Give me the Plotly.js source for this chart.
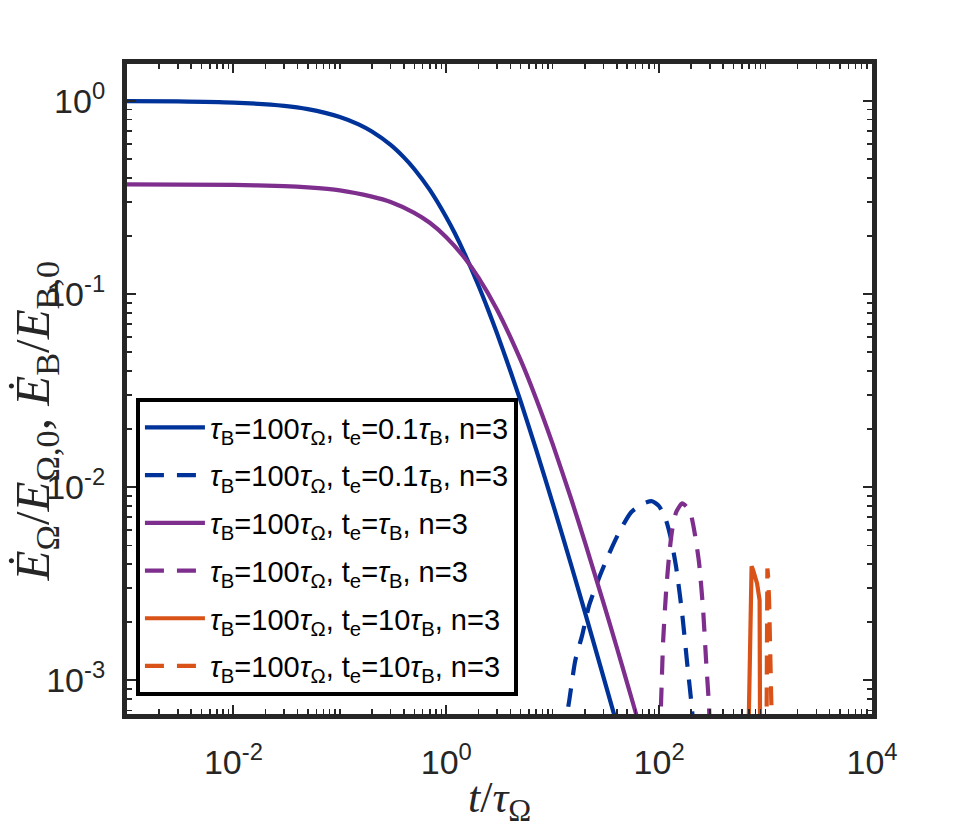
<!DOCTYPE html>
<html>
<head>
<meta charset="utf-8">
<script src="https://cdn.plot.ly/plotly-3.0.1.min.js"></script>
<style>html,body{margin:0;padding:0;background:#fff;}#chart{width:962px;height:832px;}</style>
</head>
<body>
<div id="chart"></div>
<script>
// ---- data ----
var seriesNames = [
  "<i>τ</i><sub>B</sub>=100<i>τ</i><sub>Ω</sub>, t<sub>e</sub>=0.1<i>τ</i><sub>B</sub>, n=3",
  "<i>τ</i><sub>B</sub>=100<i>τ</i><sub>Ω</sub>, t<sub>e</sub>=0.1<i>τ</i><sub>B</sub>, n=3",
  "<i>τ</i><sub>B</sub>=100<i>τ</i><sub>Ω</sub>, t<sub>e</sub>=<i>τ</i><sub>B</sub>, n=3",
  "<i>τ</i><sub>B</sub>=100<i>τ</i><sub>Ω</sub>, t<sub>e</sub>=<i>τ</i><sub>B</sub>, n=3",
  "<i>τ</i><sub>B</sub>=100<i>τ</i><sub>Ω</sub>, t<sub>e</sub>=10<i>τ</i><sub>B</sub>, n=3",
  "<i>τ</i><sub>B</sub>=100<i>τ</i><sub>Ω</sub>, t<sub>e</sub>=10<i>τ</i><sub>B</sub>, n=3"
];

// blue solid (t_e = 0.1 tau_B)
var tBlueSolid = [0.001, 0.003, 0.01, 0.03, 0.05, 0.1, 0.15, 0.2, 0.3, 0.4, 0.5, 0.7, 1, 1.2, 1.5, 2, 2.5, 3, 4, 5, 7, 10, 15, 20, 30, 40];
var yBlueSolid = [0.998, 0.994, 0.980, 0.943, 0.907, 0.826, 0.756, 0.694, 0.592, 0.510, 0.444, 0.346, 0.250, 0.207, 0.160, 0.111, 0.0816, 0.0625, 0.040, 0.0278, 0.0156, 0.00826, 0.00391, 0.00227, 0.00104, 0.000595];

// blue dashed
var tBlueDash = [12.5, 14.3, 16.3, 18.9, 22.0, 27.4, 34.0, 42.1, 54.6, 72.3, 85.9, 100, 116, 130, 144.5, 164.5, 183, 204, 212];
var yBlueDash = [0.0005, 0.000787, 0.00127, 0.00171, 0.00245, 0.00342, 0.00455, 0.00585, 0.00742, 0.00826, 0.00846, 0.00797, 0.00675, 0.00531, 0.00385, 0.00222, 0.00124, 0.00070, 0.0005];

// purple solid (t_e = tau_B)
var tPurpleSolid = [0.001, 0.01, 0.03, 0.05, 0.1, 0.2, 0.3, 0.5, 0.7, 1, 1.5, 2, 3, 5, 7, 10, 15, 20, 30, 40, 50, 60, 70];
var yPurpleSolid = [0.3697, 0.3673, 0.3622, 0.3568, 0.3444, 0.3194, 0.2997, 0.2634, 0.2339, 0.197, 0.1529, 0.1221, 0.0830, 0.0455, 0.02866, 0.01672, 0.00861, 0.00523, 0.00252, 0.00148, 0.000971, 0.000686, 0.00051];

// purple dashed
var tPurpleDash = [101, 104.4, 109.1, 116.4, 124.2, 132.5, 144.5, 164.5, 183, 199.5, 217.6, 237.5, 259, 276, 294.5, 300];
var yPurpleDash = [0.0005, 0.000787, 0.00161, 0.00292, 0.00445, 0.00599, 0.00742, 0.00826, 0.00787, 0.00716, 0.00564, 0.00404, 0.00231, 0.00127, 0.000724, 0.0005];

// orange solid (t_e = 10 tau_B)
var tOrangeSolid = [690, 708, 723, 731, 739, 764, 832, 879, 883, 888];
var yOrangeSolid = [0.0005, 0.0010, 0.00205, 0.0035, 0.0039, 0.00372, 0.00318, 0.0026, 0.0010, 0.0005];

// orange dashed
var tOrangeDash = [1020, 1033, 1040, 1055, 1079, 1102, 1133, 1152];
var yOrangeDash = [0.0005, 0.0026, 0.0038, 0.0035, 0.0026, 0.00152, 0.00089, 0.0005];

// tick labels
var xTickVals = [0.01, 1, 100, 10000];
var xTickText = ["10<sup>-2</sup>", "10<sup>0</sup>", "10<sup>2</sup>", "10<sup>4</sup>"];
var yTickVals = [0.001, 0.01, 0.1, 1];
var yTickText = ["10<sup>-3</sup>", "10<sup>-2</sup>", "10<sup>-1</sup>", "10<sup>0</sup>"];
var minorMantissas = [1, 2, 3, 4, 5, 6, 7, 8, 9];
var xDecades = [-3, -2, -1, 0, 1, 2, 3];
var yDecades = [-4, -3, -2, -1, 0];

function minorList(decades) {
  var out = [];
  decades.forEach(function (d) {
    minorMantissas.forEach(function (m) { out.push(m * Math.pow(10, d)); });
  });
  return out;
}

// ---- styling ----
var cBlue = "#003399", cPurple = "#7E2F8E", cOrange = "#D95319";
var W = 4.2;
var DASH = "19px,13px";

function tr(x, y, color, dash, name, idx, shape) {
  return {
    x: x, y: y, type: "scatter", mode: "lines", name: name,
    legendgroup: "g" + idx,
    line: {color: color, width: W, dash: dash, shape: shape || "spline", smoothing: 0.6},
    cliponaxis: true
  };
}

var data = [
  tr(tBlueSolid, yBlueSolid, cBlue, "solid", seriesNames[0], 0),
  tr(tBlueDash, yBlueDash, cBlue, DASH, seriesNames[1], 1),
  tr(tPurpleSolid, yPurpleSolid, cPurple, "solid", seriesNames[2], 2),
  tr(tPurpleDash, yPurpleDash, cPurple, DASH, seriesNames[3], 3),
  tr(tOrangeSolid, yOrangeSolid, cOrange, "solid", seriesNames[4], 4, "linear"),
  tr(tOrangeDash, yOrangeDash, cOrange, DASH, seriesNames[5], 5, "linear")
];

var axCol = "#262626";
var sans = "Liberation Sans, Arial, Helvetica, sans-serif";
var serif = "Liberation Serif, Times New Roman, serif";

function axis(rng, tv, tt, minorVals, standoff) {
  return {
    type: "log", range: rng, autorange: false,
    tickmode: "array", tickvals: tv, ticktext: tt,
    ticks: "inside", ticklen: 9, tickwidth: 2, tickcolor: axCol,
    ticklabelstandoff: standoff,
    minor: {tickmode: "array", tickvals: minorVals, ticks: "inside", ticklen: 5, tickwidth: 1.5, tickcolor: axCol, showgrid: false},
    showline: true, linewidth: 5, linecolor: axCol, mirror: "allticks",
    showgrid: false, zeroline: false,
    tickfont: {size: 34, color: axCol, family: sans}
  };
}

var layout = {
  width: 962, height: 832,
  margin: {l: 127, r: 90, t: 64, b: 118},
  paper_bgcolor: "#fff", plot_bgcolor: "#fff",
  font: {family: sans, color: axCol},
  showlegend: true,
  xaxis: axis([-3, 4], xTickVals, xTickText, minorList(xDecades), 14),
  yaxis: axis([-3.174, 0.191], yTickVals, yTickText, minorList(yDecades), 10),
  legend: {
    x: 0.012, y: 0.486, xanchor: "left", yanchor: "top",
    bgcolor: "#fff", bordercolor: "#000", borderwidth: 4,
    font: {size: 29, color: "#000", family: sans},
    itemwidth: 60, tracegroupgap: 7
  },
  annotations: [
    {xref: "paper", yref: "paper", x: 0.5, y: 0, yshift: -86, xanchor: "center", yanchor: "middle",
     text: "<i>t</i>/<i>τ</i><sub>Ω</sub>", showarrow: false,
     font: {size: 44, family: serif, color: axCol}},
    {xref: "paper", yref: "paper", x: 0, xshift: -92, y: 0.45, xanchor: "center", yanchor: "middle",
     textangle: -90, showarrow: false,
     text: "<i>Ė</i><sub>Ω</sub>/<i>E</i><sub>Ω,0</sub>, <i>Ė</i><sub>B</sub>/<i>E</i><sub>B,0</sub>",
     font: {size: 49, family: serif, color: axCol}}
  ]
};

Plotly.newPlot("chart", data, layout, {displayModeBar: false, staticPlot: true});
</script>
</body>
</html>
